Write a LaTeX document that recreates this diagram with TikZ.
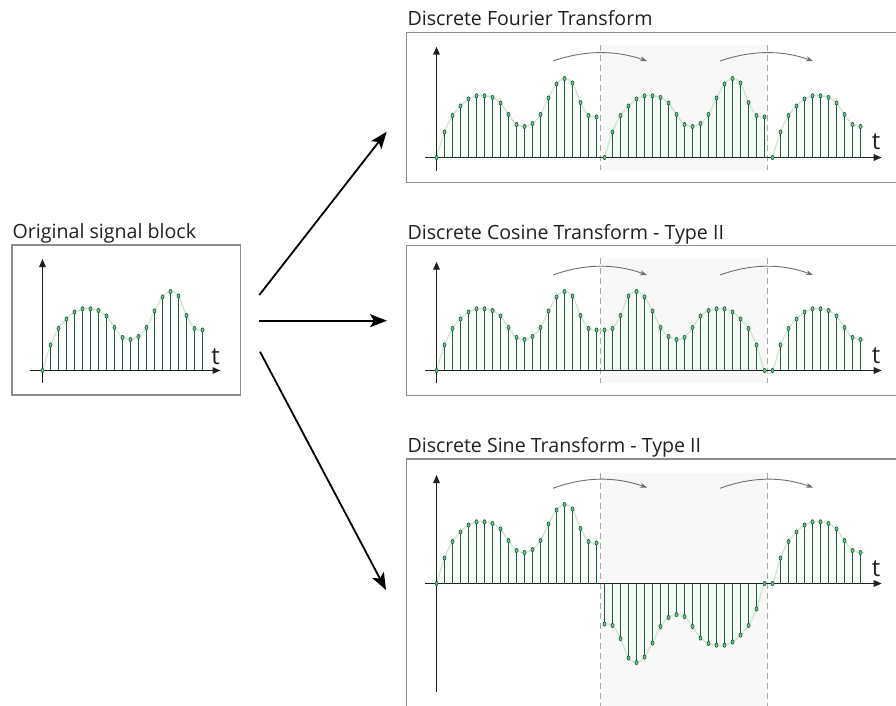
\documentclass[tikz,border=0pt]{standalone}
\usepackage{fontspec}
\setmainfont{Open Sans}
\usetikzlibrary{arrows.meta}
\definecolor{stemc}{HTML}{11653A}
\definecolor{markf}{HTML}{86BE94}
\definecolor{curvec}{HTML}{CDE7CD}
\definecolor{boxc}{HTML}{8C8C8C}
\definecolor{shadec}{HTML}{F8F8F8}
\definecolor{txtc}{HTML}{231F20}
\definecolor{dashc}{HTML}{A8A8A8}
\definecolor{harr}{HTML}{707070}
\newcommand\sigorig{0,25.5,42,51.5,58.5,61.7,61.7,60,54.5,43,33,31,34,43,59.5,73.5,79,74.5,55,42,40.5}
\newcommand\sigrev{40.5,42,55,74.5,79,73.5,59.5,43,34,31,33,43,54.5,60,61.7,61.7,58.5,51.5,42,25.5,0}
\newcommand\signegrev{-40.5,-42,-55,-74.5,-79,-73.5,-59.5,-43,-34,-31,-33,-43,-54.5,-60,-61.7,-61.7,-58.5,-51.5,-42,-25.5,0}
\newcommand\sigfirst{0,25.5,42,51.5,58.5,61.7,61.7,60,54.5,43,33,31}
\newcommand\spc{8}
% stems and markers
\newcommand\mystems[3]{%
  \foreach \v [count=\i from 0] in #3 {%
    \draw[stemline] (#1+\spc*\i, #2) -- (#1+\spc*\i, #2-\v);
  }%
  \foreach \v [count=\i from 0] in #3 {%
    \draw[sampdot] (#1+\spc*\i, #2-\v) ellipse [x radius=1.5, y radius=2.1];
  }}
% collect curve points
\newcommand\addpts[3]{%
  \foreach \v [count=\i from 0] in #3 {%
    \pgfmathsetmacro\xx{#1+\spc*\i}%
    \pgfmathsetmacro\yy{#2-\v}%
    \xdef\pts{\pts (\xx,\yy)}%
  }}
\newcommand\drawpts{%
  \edef\tmp{\noexpand\draw[curveline] plot[smooth,tension=0.55] coordinates {\pts};}\tmp}
\tikzset{
  stemline/.style={draw=stemc, line width=1.1pt},
  sampdot/.style={draw=stemc, fill=markf, line width=0.7pt},
  curveline/.style={draw=curvec, line width=1.3pt},
  boxline/.style={draw=boxc, line width=1.4pt},
  axisline/.style={draw=txtc, line width=1.4pt, -{Triangle[length=8pt,width=6.5pt]}},
  dashline/.style={draw=dashc, line width=1pt, dash pattern=on 6pt off 4pt},
  shiftarrow/.style={draw=harr, line width=0.9pt, -{Stealth[length=7pt,width=5pt]}},
  bigarrow/.style={draw=black, line width=1.8pt, -{Stealth[length=17pt,width=13pt,inset=4pt]}},
  title/.style={anchor=base west, inner sep=0pt, text=txtc, font=\fontsize{19.6}{23}\selectfont},
  tlabel/.style={anchor=base, inner sep=0pt, text=txtc, font=\fontsize{24}{28}\selectfont},
}
\begin{document}
\begin{tikzpicture}[x=1pt,y=-1pt]
\useasboundingbox (0,0) rectangle (896,706);
\clip (0,0) rectangle (896,706);
\fill[white] (0,0) rectangle (896,706);

% ---------------- Original block ----------------
\node[title] (torig) at (12.5,238.3) {Original signal block};
\draw[boxline] (12,245) rectangle (240.5,395);
\gdef\pts{}\addpts{42.5}{370.5}{\sigorig}\xdef\pts{\pts (205.5,330.4)}\drawpts
\draw[axisline] (42.5,383) -- (42.5,259);
\draw[axisline] (30,370.5) -- (220.5,370.5);
\mystems{42.5}{370.5}{\sigorig}
\node[tlabel] (t0) at (215.5,364.3) {t};

% ---------------- big arrows ----------------
\coordinate (a0) at (259.3,295);
\coordinate (a1) at (386.7,131.7);
\coordinate (b0) at (259.3,320.7);
\coordinate (b1) at (387,320.7);
\coordinate (c0) at (260,351.7);
\coordinate (c1) at (386,590);
\draw[bigarrow] (a0) -- (a1);
\draw[bigarrow] (b0) -- (b1);
\draw[bigarrow] (c0) -- (c1);

% ---------------- DFT ----------------
\node[title] (tdft) at (407.3,26) {Discrete Fourier Transform};
\fill[shadec] (600.5,45) rectangle (767.5,169.5);
\draw[dashline] (600.5,45) -- (600.5,169.5);
\draw[dashline] (767.5,45) -- (767.5,169.5);
\draw[boxline] (905,32.7) -| (406.7,182.7) -- (905,182.7);
\gdef\pts{}\addpts{436.5}{157.5}{\sigorig}\drawpts
\gdef\pts{}\addpts{604.5}{157.5}{\sigorig}\drawpts
\gdef\pts{}\addpts{772.5}{157.5}{\sigfirst}\xdef\pts{\pts (864,126.8)}\drawpts
\draw[axisline] (436.5,170.7) -- (436.5,46.7);
\draw[axisline] (425,157.5) -- (881.7,157.5);
\mystems{436.5}{157.5}{\sigorig}
\mystems{604.5}{157.5}{\sigorig}
\mystems{772.5}{157.5}{\sigfirst}
\coordinate (d1s) at (553,61); \coordinate (d1e) at (647,61);
\coordinate (d2s) at (720,61); \coordinate (d2e) at (813,61);
\draw[shiftarrow] (d1s) .. controls (585,50) and (615,50) .. (d1e);
\draw[shiftarrow] (d2s) .. controls (752,50) and (782,50) .. (d2e);
\node[tlabel] (t1) at (876,149.3) {t};

% ---------------- DCT ----------------
\node[title] (tdct) at (407.3,239) {Discrete Cosine Transform - Type II};
\fill[shadec] (600.5,258.3) rectangle (767.5,382.7);
\draw[dashline] (600.5,258.3) -- (600.5,382.7);
\draw[dashline] (767.5,258.3) -- (767.5,382.7);
\draw[boxline] (905,245.7) -| (406.7,395.7) -- (905,395.7);
\gdef\pts{}\addpts{436.5}{370.5}{\sigorig}\addpts{604.5}{370.5}{\sigrev}\addpts{772.5}{370.5}{\sigfirst}\xdef\pts{\pts (864,339.8)}\drawpts
\draw[axisline] (436.5,383.3) -- (436.5,261.7);
\draw[axisline] (425,370.5) -- (881.7,370.5);
\mystems{436.5}{370.5}{\sigorig}
\mystems{604.5}{370.5}{\sigrev}
\mystems{772.5}{370.5}{\sigfirst}
\coordinate (e1s) at (553,275); \coordinate (e1e) at (647,275);
\coordinate (e2s) at (720,275); \coordinate (e2e) at (813,275);
\draw[shiftarrow] (e1s) .. controls (585,263.5) and (615,263.5) .. (e1e);
\draw[shiftarrow] (e2s) .. controls (752,263.5) and (782,263.5) .. (e2e);
\node[tlabel] (t2) at (876,363.3) {t};

% ---------------- DST ----------------
\node[title] (tdst) at (407.3,452.3) {Discrete Sine Transform - Type II};
\fill[shadec] (600.5,472.7) rectangle (767.5,710);
\draw[dashline] (600.5,472.7) -- (600.5,710);
\draw[dashline] (767.5,472.7) -- (767.5,710);
\draw[boxline] (905,459) -| (406.7,712);
\gdef\pts{}\addpts{436.5}{583.5}{\sigorig}\drawpts
\gdef\pts{}\addpts{604.5}{583.5}{\signegrev}\addpts{772.5}{583.5}{\sigfirst}\xdef\pts{\pts (864,552.8)}\drawpts
\draw[axisline] (436.5,691.7) -- (436.5,475);
\draw[axisline] (425,583.5) -- (881.7,583.5);
\mystems{436.5}{583.5}{\sigorig}
\mystems{604.5}{583.5}{\signegrev}
\mystems{772.5}{583.5}{\sigfirst}
\coordinate (f1s) at (553,488.3); \coordinate (f1e) at (647,487.5);
\coordinate (f2s) at (720,488.3); \coordinate (f2e) at (813,487.5);
\draw[shiftarrow] (f1s) .. controls (585,476.5) and (615,476.5) .. (f1e);
\draw[shiftarrow] (f2s) .. controls (752,476.5) and (782,476.5) .. (f2e);
\node[tlabel] (t3) at (876,576.7) {t};
\end{tikzpicture}
\end{document}
